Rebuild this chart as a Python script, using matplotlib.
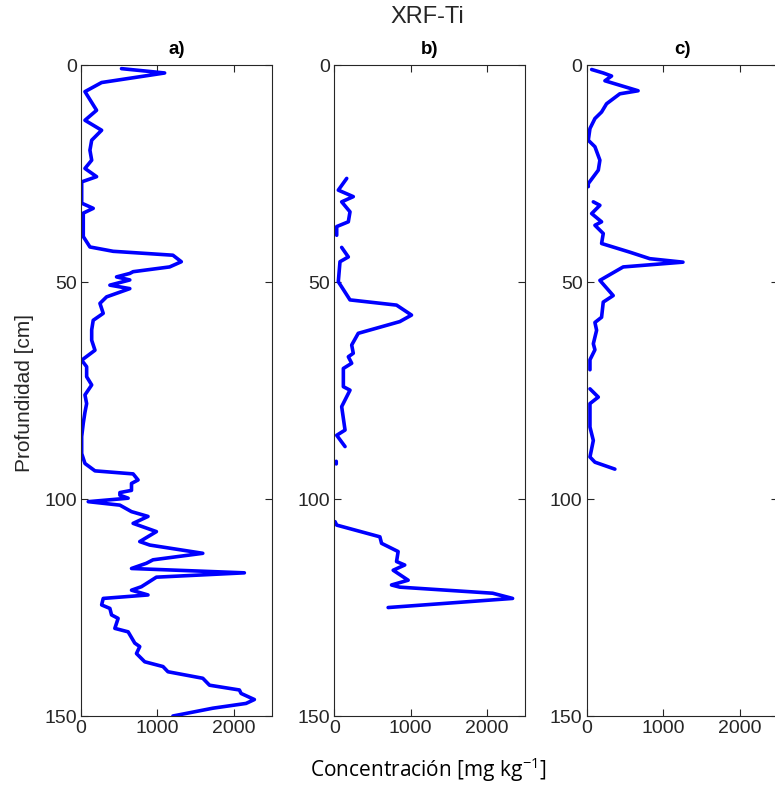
import numpy as np
import matplotlib
matplotlib.use("Agg")
import matplotlib.pyplot as plt

nan = np.nan

# Panel a) depth [cm] and Ti concentration [mg kg-1]
depth_a = [0.8, 1.8, 4.0, 6.1, 10.4, 12.7, 15.0, 17.3, 19.6, 21.9, 23.8, 25.7, 26.9, 31.8,
           33.0, 34.1, 39.5, 41.9, 42.9, 43.8, 45.3, 46.5, 47.6, 48.0, 48.8, 49.5, 50.7,
           51.5, 53.4, 54.9, 57.2, 58.8, 61.0, 63.4, 65.7, 68.0, 69.5, 71.8, 73.7, 76.0,
           78.0, 80.0, 82.5, 85.6, 89.5, 91.8, 93.5, 94.2, 95.6, 96.4, 98.0, 98.5, 99.1,
           99.8, 100.6, 101.4, 102.9, 104.0, 105.6, 107.5, 109.8, 110.6, 112.5, 114.0,
           114.8, 116.0, 117.0, 118.0, 120.2, 121.0, 122.1, 122.9, 124.4, 125.2, 126.7,
           127.5, 129.8, 130.6, 133.2, 134.0, 135.6, 137.5, 138.6, 139.8, 141.3, 142.9,
           144.0, 144.8, 146.2, 147.1, 148.2, 150.0]
ti_a = [530, 1095, 270, 52, 204, 52, 270, 140, 117, 140, 52, 204, 9, 9,
        160, 30, 30, 117, 421, 1203, 1313, 1160, 682, 639, 465, 639, 378,
        639, 335, 248, 291, 160, 140, 140, 183, 9, 74, 74, 140, 52,
        74, 52, 30, 9, 9, 52, 183, 682, 747, 661, 661, 509, 509,
        617, 95, 509, 661, 877, 682, 987, 769, 900, 1594, 943,
        856, 661, 2138, 987, 791, 661, 877, 291, 270, 378, 400,
        486, 443, 617, 704, 769, 726, 834, 1073, 1138, 1594, 1682,
        2073, 2095, 2269, 2160, 1725, 1203]

# Panel b)
depth_b = [26.1, 28.8, 30.3, 31.5, 33.8, 36.1, 37.2, 39.2, nan,
           42.0, 44.2, 45.3, 49.9, 54.1, 55.3, 57.6, 59.1, 61.8, 64.5, 66.4, 67.2,
           68.7, 69.9, 74.1, 74.9, 78.7, 84.1, 85.3, 87.9, nan,
           91.3, 91.9, nan,
           105.2, 106.0, 108.7, 110.2, 112.1, 114.4, 115.2, 116.4, 118.7, 119.8,
           120.3, 121.7, 122.9, 125.0]
ti_b = [162, 52, 248, 96, 205, 183, 31, 31, nan,
        96, 183, 74, 52, 205, 814, 1010, 857, 313, 227, 248, 183,
        227, 118, 118, 205, 96, 140, 31, 140, nan,
        25, 25, nan,
        9, 31, 596, 618, 835, 814, 921, 770, 966, 748,
        857, 2072, 2333, 704]

# Panel c)
depth_c = [1.0, 1.8, 2.5, 3.6, 5.9, 6.6, 8.9, 10.8, 12.3, 14.6, 17.3, 18.8, 21.9,
           24.2, 27.3, 28.0, nan,
           31.5, 32.3, 34.2, 36.1, 36.9, 38.8, 41.1, 43.1, 44.6, 45.4, 46.5, 49.6,
           53.1, 54.6, 58.1, 59.3, 61.1, 64.2, 65.6, 67.9, 70.2, nan,
           74.6, 76.5, 78.0, 83.4, 86.5, 90.3, 91.5, 93.1]
ti_c = [65, 217, 326, 239, 673, 434, 260, 195, 108, 43, 21, 108, 173,
        152, 21, 21, nan,
        87, 173, 65, 195, 108, 217, 195, 565, 826, 1260, 478, 173,
        347, 217, 195, 108, 130, 87, 108, 43, 43, nan,
        43, 152, 43, 43, 87, 43, 108, 369]

panel_titles = ["a)", "b)", "c)"]
xticks = [0, 1000, 2000]
yticks = [0, 50, 100, 150]

plt.rcParams['font.family'] = ['Liberation Sans', 'DejaVu Sans']
grey = '#262626'

fig = plt.figure(figsize=(7.75, 7.87), dpi=100)
lefts = [0.1045, 0.4314, 0.757]
data = [(depth_a, ti_a), (depth_b, ti_b), (depth_c, ti_c)]
for left, (d, v), t in zip(lefts, data, panel_titles):
    ax = fig.add_axes([left, 0.0902, 0.2465, 0.827])
    ax.plot(v, d, color='#0000FF', lw=2.6, solid_joinstyle='round',
            solid_capstyle='round')
    ax.set_xlim(0, 2500)
    ax.set_ylim(150, 0)
    ax.set_xticks(xticks)
    ax.set_yticks(yticks)
    ax.tick_params(direction='in', top=True, right=True, length=5, width=0.8,
                   colors=grey, labelsize=14, pad=3)
    for s in ax.spines.values():
        s.set_color(grey)
        s.set_linewidth(0.8)
    ax.set_title(t, fontsize=13.5, fontweight='bold', pad=8, color='black')

fig.text(0.552, 0.979, "XRF-Ti", ha='center', va='center', fontsize=17, color=grey)
fig.text(0.032, 0.50, "Profundidad [cm]", rotation=90, ha='center', va='center',
         fontsize=15, color=grey)
fig.text(0.552, 0.022, "Concentración [mg kg$^{\\mathregular{-1}}$]", ha='center', va='center',
         fontsize=15, color='black', family=['Open Sans', 'DejaVu Sans'])

fig.savefig("out.png", dpi=100)
